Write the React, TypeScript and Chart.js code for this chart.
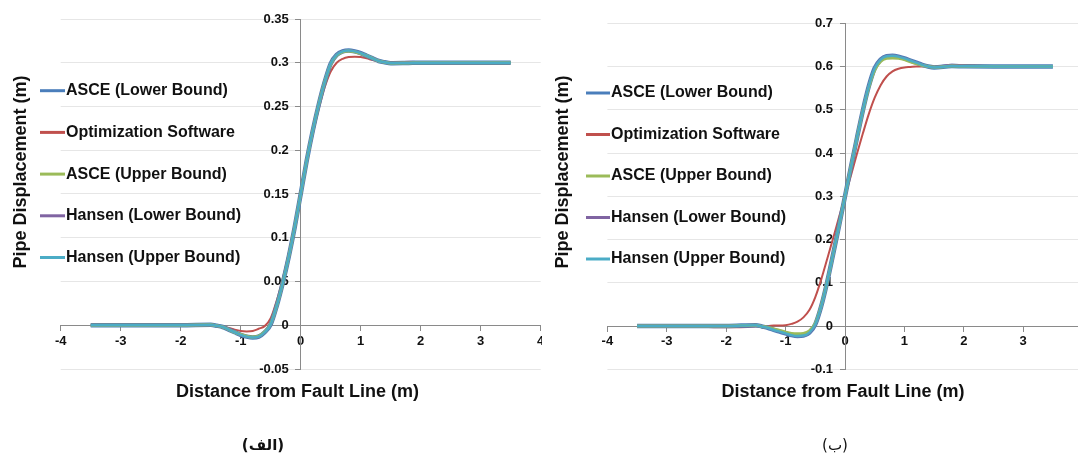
import React, { useEffect, useRef } from 'react';
import { Chart, registerables } from 'chart.js';

Chart.register(...registerables);

// ---------- data ----------
const distance = [
  -3.5, -3, -2.5, -2, -1.5, -1.4, -1.3, -1.2, -1.1, -1.0, -0.9, -0.8, -0.7, -0.6, -0.5, -0.4, -0.3, -0.2, -0.1,
  0, 0.1, 0.2, 0.3, 0.4, 0.5, 0.6, 0.7, 0.8, 0.9, 1.0, 1.1, 1.2, 1.3, 1.4, 1.5, 1.8, 2, 2.5, 3, 3.5,
];

const seriesNames = [
  'ASCE (Lower Bound)',
  'Optimization Software',
  'ASCE (Upper Bound)',
  'Hansen (Lower Bound)',
  'Hansen (Upper Bound)',
];
const seriesColors = ['#4A7EBB', '#C0504D', '#9BBB59', '#8064A2', '#4BACC6'];

const xTicks = [-4, -3, -2, -1, 0, 1, 2, 3, 4];
const yTicksA = [-0.05, 0, 0.05, 0.1, 0.15, 0.2, 0.25, 0.3, 0.35];
const yTicksB = [-0.1, 0, 0.1, 0.2, 0.3, 0.4, 0.5, 0.6, 0.7];

// Panel (الف) — 0.3 m fault offset
const asceLowerA = [
  0, 0, 0, 0, 0.0005, -0.0005, -0.002, -0.005, -0.008, -0.011, -0.013, -0.014, -0.013, -0.008, 0.001, 0.022, 0.048, 0.078, 0.112,
  0.15, 0.188, 0.222, 0.252, 0.278, 0.299, 0.309, 0.313, 0.314, 0.313, 0.311, 0.308, 0.305, 0.302, 0.3005, 0.2995, 0.2998, 0.3, 0.3, 0.3, 0.3,
];
const optimizationA = [
  0, 0, 0, 0, 0, -0.0005, -0.0015, -0.003, -0.005, -0.0065, -0.007, -0.0065, -0.004, -0.001, 0.008, 0.028, 0.053, 0.082, 0.114,
  0.15, 0.186, 0.218, 0.247, 0.272, 0.29, 0.3, 0.3045, 0.3065, 0.307, 0.3065, 0.305, 0.303, 0.3015, 0.3005, 0.3, 0.301, 0.3005, 0.3, 0.3, 0.3,
];
const asceUpperA = [
  0, 0, 0, 0, 0.0005, -0.0005, -0.002, -0.005, -0.008, -0.0105, -0.0125, -0.0135, -0.0125, -0.0075, 0.0015, 0.022, 0.048, 0.078, 0.112,
  0.15, 0.188, 0.222, 0.252, 0.278, 0.2985, 0.3085, 0.3125, 0.3135, 0.3125, 0.3105, 0.308, 0.305, 0.302, 0.3005, 0.2995, 0.2998, 0.3, 0.3, 0.3, 0.3,
];
const hansenLowerA = [
  0, 0, 0, 0, 0.0005, -0.0005, -0.002, -0.005, -0.008, -0.011, -0.013, -0.014, -0.013, -0.008, 0.001, 0.022, 0.048, 0.078, 0.112,
  0.15, 0.188, 0.222, 0.252, 0.278, 0.299, 0.309, 0.313, 0.314, 0.313, 0.311, 0.308, 0.305, 0.302, 0.3005, 0.2995, 0.3005, 0.3003, 0.3, 0.3, 0.3,
];
const hansenUpperA = [
  0, 0, 0, 0, 0.0005, -0.0005, -0.002, -0.005, -0.008, -0.011, -0.013, -0.014, -0.013, -0.008, 0.001, 0.022, 0.048, 0.078, 0.112,
  0.15, 0.188, 0.222, 0.252, 0.278, 0.299, 0.309, 0.313, 0.314, 0.313, 0.311, 0.308, 0.305, 0.302, 0.3005, 0.2995, 0.2998, 0.3, 0.3, 0.3, 0.3,
];

// Panel (ب) — 0.6 m fault offset
const asceLowerB = [
  0, 0, 0, 0, 0.002, -0.001, -0.004, -0.009, -0.013, -0.017, -0.021, -0.023, -0.022, -0.015, 0.004, 0.046, 0.102, 0.166, 0.232,
  0.3, 0.368, 0.434, 0.498, 0.554, 0.596, 0.616, 0.624, 0.625, 0.623, 0.619, 0.614, 0.609, 0.604, 0.6, 0.598, 0.601, 0.6005, 0.6, 0.6, 0.6,
];
const optimizationB = [
  0, 0, -0.001, -0.003, -0.001, 0, 0, 0.001, 0.001, 0.002, 0.005, 0.01, 0.02, 0.037, 0.067, 0.108, 0.155, 0.203, 0.252,
  0.3, 0.348, 0.398, 0.445, 0.49, 0.528, 0.557, 0.577, 0.589, 0.595, 0.598, 0.599, 0.6, 0.6, 0.6, 0.6, 0.602, 0.6015, 0.6, 0.6, 0.6,
];
const asceUpperB = [
  0, 0, 0, 0, 0.002, -0.001, -0.003, -0.007, -0.01, -0.014, -0.017, -0.018, -0.017, -0.011, 0.006, 0.047, 0.102, 0.166, 0.232,
  0.3, 0.368, 0.434, 0.497, 0.552, 0.592, 0.612, 0.619, 0.62, 0.619, 0.616, 0.611, 0.607, 0.603, 0.6, 0.5985, 0.601, 0.6005, 0.6, 0.6, 0.6,
];
const hansenLowerB = [
  0, 0, 0, 0, 0.002, -0.001, -0.004, -0.009, -0.013, -0.017, -0.021, -0.023, -0.022, -0.015, 0.004, 0.046, 0.102, 0.166, 0.232,
  0.3, 0.368, 0.434, 0.498, 0.554, 0.596, 0.616, 0.624, 0.625, 0.623, 0.619, 0.614, 0.609, 0.604, 0.6, 0.598, 0.603, 0.602, 0.6, 0.6, 0.6,
];
const hansenUpperB = [
  0, 0, 0, 0, 0.002, -0.001, -0.004, -0.009, -0.013, -0.017, -0.021, -0.023, -0.022, -0.015, 0.004, 0.046, 0.102, 0.166, 0.232,
  0.3, 0.368, 0.434, 0.498, 0.554, 0.596, 0.616, 0.624, 0.625, 0.623, 0.619, 0.614, 0.609, 0.604, 0.6, 0.598, 0.601, 0.6005, 0.6, 0.6, 0.6,
];

const seriesA = [asceLowerA, optimizationA, asceUpperA, hansenLowerA, hansenUpperA];
const seriesB = [asceLowerB, optimizationB, asceUpperB, hansenLowerB, hansenUpperB];

const xTitle = 'Distance from Fault Line (m)';
const yTitle = 'Pipe Displacement (m)';

// ---------- styles ----------
const lineWidths = [4.5, 2, 3, 3, 2.5];
const drawOrder = [3, 4, 1, 2, 0];
const FONT = '"Liberation Sans", Arial, Helvetica, sans-serif';
const LABEL_GAP = '\u2002\u2005\u2006';

const decorPlugin = {
  id: 'panelDecor',
  afterDraw(chart: any, _args: any, opts: any) {
    const ctx = chart.ctx as CanvasRenderingContext2D;
    ctx.save();
    // legend
    ctx.font = `bold 16px ${FONT}`;
    ctx.textBaseline = 'middle';
    ctx.textAlign = 'left';
    chart.data.datasets.forEach((ds: any, i: number) => {
      const y = opts.legendY + i * opts.legendGap;
      ctx.strokeStyle = ds.borderColor;
      ctx.lineWidth = 3;
      ctx.beginPath();
      ctx.moveTo(opts.lineX0, y);
      ctx.lineTo(opts.lineX1, y);
      ctx.stroke();
      ctx.fillStyle = '#111';
      ctx.fillText(ds.label, opts.textX, y);
    });
    // axis titles
    ctx.font = `bold 18px ${FONT}`;
    ctx.textAlign = 'center';
    ctx.fillStyle = '#111';
    ctx.fillText(opts.xTitle, opts.xTitleX, opts.xTitleY);
    ctx.translate(opts.yTitleX, opts.yTitleY);
    ctx.rotate(-Math.PI / 2);
    ctx.fillText(opts.yTitle, 0, 0);
    ctx.restore();
  },
};

type PanelProps = {
  series: number[][];
  yTicks: number[];
  left: number;
  clipWidth: number;
  area: { left: number; top: number; right: number; bottom: number };
  decor: any;
};

const CW = 570;
const CH = 457;

function Panel({ series, yTicks, left, clipWidth, area, decor }: PanelProps) {
  const ref = useRef<HTMLCanvasElement | null>(null);
  useEffect(() => {
    if (!ref.current) return;
    const chart = new Chart(ref.current, {
      type: 'line',
      data: {
        datasets: seriesNames.map((name, i) => ({
          label: name,
          data: distance.map((x, j) => ({ x, y: series[i][j] })),
          borderColor: seriesColors[i],
          backgroundColor: seriesColors[i],
          borderWidth: lineWidths[i],
          pointRadius: 0,
          cubicInterpolationMode: 'monotone' as const,
          fill: false,
          order: drawOrder[i],
        })),
      },
      options: {
        animation: false,
        responsive: false,
        devicePixelRatio: 1,
        layout: {
          padding: { left: area.left, top: area.top, right: CW - area.right, bottom: CH - area.bottom },
        },
        plugins: {
          legend: { display: false },
          tooltip: { enabled: false },
          panelDecor: decor,
        } as any,
        scales: {
          x: {
            type: 'linear',
            position: { y: 0 } as any,
            min: xTicks[0],
            max: xTicks[xTicks.length - 1],
            afterBuildTicks: (s: any) => { s.ticks = xTicks.map((v) => ({ value: v })); },
            ticks: {
              font: { family: FONT, size: 13, weight: 'bold' },
              color: '#111',
              padding: 3,
              maxRotation: 0,
            },
            grid: { drawOnChartArea: false, drawTicks: true, tickLength: 5, tickColor: '#8a8a8a' },
            border: { display: true, color: '#8a8a8a', width: 1 },
          },
          y: {
            type: 'linear',
            position: { x: 0 } as any,
            min: yTicks[0],
            max: yTicks[yTicks.length - 1],
            afterBuildTicks: (s: any) => { s.ticks = yTicks.map((v) => ({ value: v })); },
            ticks: {
              font: { family: FONT, size: 13, weight: 'bold' },
              color: '#111',
              padding: 7,
              callback: (v: any) => String(parseFloat(Number(v).toFixed(2))) + LABEL_GAP,
            },
            grid: { color: '#e6e6e6', tickLength: 5, tickColor: '#8a8a8a' },
            border: { display: true, color: '#8a8a8a', width: 1 },
          },
        },
      },
      plugins: [decorPlugin],
    } as any);
    return () => chart.destroy();
  }, []);
  return (
    <div style={{ position: 'absolute', left, top: 0, width: clipWidth, height: CH, overflow: 'hidden' }}>
      <canvas ref={ref} width={CW} height={CH} style={{ width: CW, height: CH, display: 'block' }} />
    </div>
  );
}

export default function App() {
  return (
    <div style={{ position: 'fixed', left: 0, top: 0, width: 1078, height: 457, background: '#fff', overflow: 'hidden' }}>
      <Panel
        series={seriesA}
        yTicks={yTicksA}
        left={0}
        clipWidth={542}
        area={{ left: 60.7, top: 19, right: 540.7, bottom: 369 }}
        decor={{
          legendY: 90.7, legendGap: 41.7, lineX0: 40, lineX1: 65, textX: 66,
          xTitle, yTitle, xTitleX: 297.5, xTitleY: 392, yTitleX: 21, yTitleY: 172,
        }}
      />
      <Panel
        series={seriesB}
        yTicks={yTicksB}
        left={542}
        clipWidth={536}
        area={{ left: 65.4, top: 23.3, right: 540.6, bottom: 369.3 }}
        decor={{
          legendY: 93, legendGap: 41.5, lineX0: 44, lineX1: 68, textX: 69,
          xTitle, yTitle, xTitleX: 301, xTitleY: 392, yTitleX: 21, yTitleY: 172,
        }}
      />
      <div dir="rtl" style={{ position: 'absolute', left: 213, top: 436, width: 100, textAlign: 'center', font: 'bold 15px "DejaVu Sans", sans-serif', color: '#111' }}>(الف)</div>
      <div dir="rtl" style={{ position: 'absolute', left: 785, top: 436, width: 100, textAlign: 'center', font: '15px "DejaVu Sans", sans-serif', color: '#111' }}>(ب)</div>
    </div>
  );
}
